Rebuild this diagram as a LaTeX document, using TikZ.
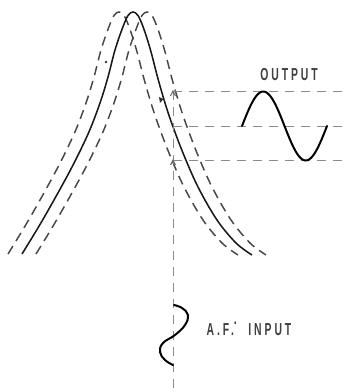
\documentclass[tikz,border=0pt]{standalone}
\usepackage{fontspec}
\newfontfamily\lblfont[LetterSpace=28]{Liberation Sans Bold}
\usetikzlibrary{arrows.meta}
\newcommand\rescurve[1]{\draw[#1] plot[smooth,tension=0.55] coordinates {(22,254) (38.5,227) (54,200) (72,167) (88.5,133) (100,103) (108,77) (115,50) (122.5,28) (128,15.5) (133,12) (138,15.5) (143.5,28) (150.5,50) (157.5,77) (165,103) (172,124) (183,153) (198,187) (217,220) (236,243) (252,255)};}
\begin{document}
\begin{tikzpicture}[x=0.75pt,y=-0.75pt,
  solidcurve/.style={draw=black!90, line width=1.15pt},
  dashcurve/.style={draw=black!72, line width=1.1pt, dash pattern=on 7pt off 4.5pt},
  guide/.style={draw=black!45, line width=0.6pt, dash pattern=on 7pt off 5pt},
  wave/.style={draw=black, line width=1.5pt, line cap=round},
  lbl/.style={font=\lblfont\fontsize{13}{15}\selectfont, text=black!75, inner sep=0pt},
  tipmark/.style={draw=black!60, line width=0.7pt}]
\useasboundingbox (0,0) rectangle (347,392);
% resonance curves
\rescurve{dashcurve, xshift=-10.5pt}
\rescurve{dashcurve, xshift=10.5pt}
\rescurve{solidcurve}
% guide coordinates
\coordinate (vtop) at (173,91);
\coordinate (vbot) at (173,392);
\coordinate (op) at (173,126);
\coordinate (lo) at (173,160);
\coordinate (htopend) at (347,91);
\coordinate (hmidend) at (347,126);
\coordinate (hlowend) at (342,160);
\draw[guide] (vtop) -- (vbot);
\draw[guide] (vtop) -- (htopend);
\draw[guide] (op) -- (hmidend);
\draw[guide] (lo) -- (hlowend);
% small marks
\draw[tipmark] (170.5,96) -- (173,91) -- (175.5,96);
\draw[tipmark] (170.5,165) -- (173,160) -- (175.5,165);
\fill[black!80] (159,97) -- (163.5,99) -- (160,103) -- cycle;
\fill[black!80] (106,62) circle (1.3);
% output wave
\draw[wave] plot[domain=0:85, samples=60, smooth] ({242+\x},{126-34.5*sin(\x/85*360)});
% input wave
\draw[wave] plot[smooth, tension=0.7] coordinates {(174,305) (182,308) (188,315) (185,325) (175,335) (163,343) (160,352) (165,360) (173,365)};
% labels
\node[lbl] (out) at (289,75) {\scalebox{0.6}[1]{OUTPUT}};
\node[lbl] (in) at (249,329) {\scalebox{0.6}[1]{A.F.\raisebox{1.25ex}{.}\ \ INPUT}};
\end{tikzpicture}
\end{document}
